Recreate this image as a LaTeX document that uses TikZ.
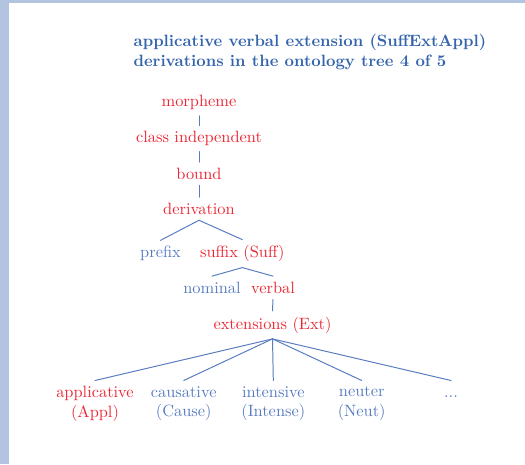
\documentclass[tikz,border=0pt]{standalone}
\usepackage{amssymb,amsfonts,amsmath}
\usepackage{xcolor}
\usepackage{tikz}
\usetikzlibrary{calc,positioning}

\definecolor{framecol}{RGB}{178,196,224}
\definecolor{titleblue}{RGB}{52,100,172}
\definecolor{treeblue}{RGB}{88,124,192}
\definecolor{treered}{RGB}{236,38,52}

\tikzset{
  onpath/.style={text=treered, anchor=base},
  offpath/.style={text=treeblue, anchor=base},
  leaf/.style={anchor=north, align=center},
  branch/.style={draw=treeblue, line width=0.6pt},
}

\begin{document}
\begin{tikzpicture}[x=0.61pt,y=-0.61pt, line cap=round,line join=round]
\useasboundingbox (0,0) rectangle (525,464);
% slide frame
\fill[framecol] (0,0) rectangle (9,464);
\fill[framecol] (0,0) rectangle (525,3);

% title
\node[anchor=base west, inner sep=0pt, text=titleblue, font=\bfseries] (title1) at (133.3,46.7) {applicative verbal extension (SuffExtAppl)};
\node[anchor=base west, inner sep=0pt, text=titleblue, font=\bfseries] (title2) at (133.3,67) {derivations in the ontology tree 4 of 5};

% the tree
\node[onpath] (morph) at (199,107) {morpheme};
\node[onpath] (classind) at (199,142.7) {class independent};
\node[onpath] (bound) at (199,179.3) {bound};
\node[onpath] (deriv) at (199,214.3) {derivation};
\node[offpath] (prefix) at (160.5,257.7) {prefix};
\node[onpath] (suffix) at (242.3,257.7) {suffix (Suff)};
\node[offpath] (nominal) at (212,293.3) {nominal};
\node[onpath] (verbal) at (273,293.3) {verbal};
\node[onpath] (ext) at (272.5,329) {extensions (Ext)};
% leaves
\node[leaf, text=treered] (appl) at (95,380.5) {applicative\\(Appl)};
\node[leaf, text=treeblue] (cause) at (183.7,380.5) {causative\\(Cause)};
\node[leaf, text=treeblue] (intense) at (273.3,380.5) {intensive\\(Intense)};
\node[leaf, text=treeblue] (neut) at (361.7,380.5) {neuter\\(Neut)};
\node[leaf, text=treeblue] (dots) at (451,380.5) {\vphantom{l}...};

\draw[branch] (morph.south) -- (classind.north);
\draw[branch] (classind.south) -- (bound.north);
\draw[branch] (bound.south) -- (deriv.north);
\draw[branch] (deriv.south) -- (prefix.north);
\draw[branch] (deriv.south) -- (suffix.north);
\draw[branch] (suffix.south) -- (nominal.north);
\draw[branch] (suffix.south) -- (verbal.north);
\draw[branch] (verbal.south) -- (ext.north);
\foreach \k in {appl,cause,intense,neut,dots}
  \draw[branch] (ext.south) -- (\k.north);
\end{tikzpicture}
\end{document}
